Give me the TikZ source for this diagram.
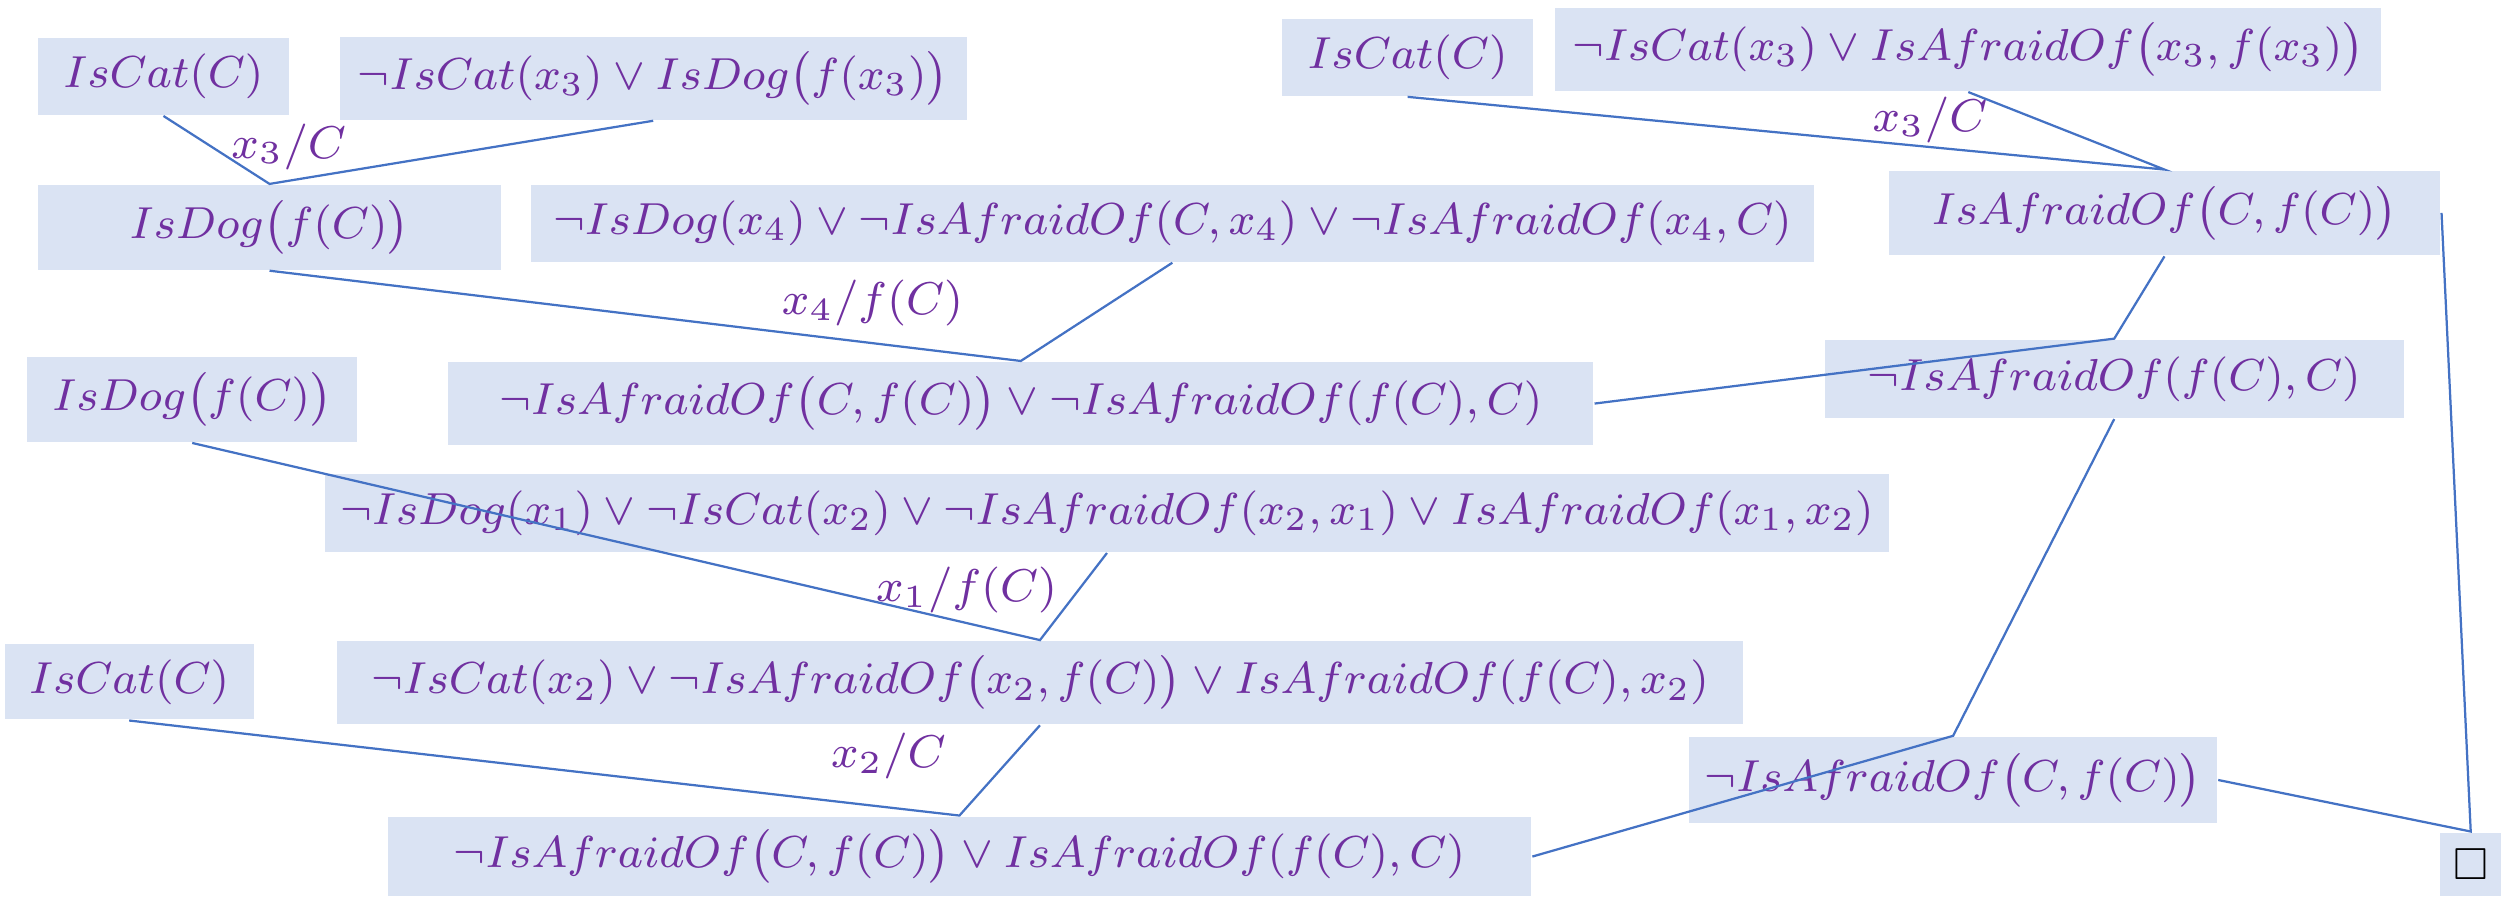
\documentclass[tikz,border=0pt]{standalone}
\usepackage{fix-cm}
\usepackage{amsmath}
\usepackage{amssymb}
\usepackage{tikz}
\definecolor{clausefill}{HTML}{DAE3F3}
\definecolor{clausetext}{HTML}{7030A0}
\definecolor{edgeblue}{HTML}{4472C4}

\begin{document}
\begin{tikzpicture}[
  clause/.style={fill=clausefill, text=clausetext, inner sep=0pt, font=\fontsize{8}{10}\selectfont},
  subst/.style={text=clausetext, inner sep=0pt, font=\fontsize{8.2}{10}\selectfont},
  edge/.style={draw=edgeblue, line width=0.4pt}
]
\useasboundingbox (0,0) rectangle (15.68,-5.62);
\node[clause, minimum width=1.57cm, minimum height=0.48cm] (catA) at (1.025,-0.48) {$IsCat(C)$};
\node[clause, minimum width=3.93cm, minimum height=0.52cm] (dogrule) at (4.095,-0.49) {$\neg IsCat(x_3)\vee IsDog\bigl(f(x_3)\bigr)$};
\node[clause, minimum width=2.90cm, minimum height=0.53cm] (dogfc) at (1.69,-1.425) {$IsDog\bigl(f(C)\bigr)$};
\node[clause, minimum width=8.04cm, minimum height=0.48cm] (afraidrule) at (7.35,-1.40) {$\neg IsDog(x_4)\vee\neg IsAfraidOf(C,x_4)\vee\neg IsAfraidOf(x_4,C)$};
\node[clause, minimum width=7.18cm, minimum height=0.52cm] (resA) at (6.40,-2.53) {$\neg IsAfraidOf\bigl(C,f(C)\bigr)\vee\neg IsAfraidOf(f(C),C)$};
\node[clause, minimum width=1.57cm, minimum height=0.48cm] (catB) at (8.825,-0.36) {$IsCat(C)$};
\node[clause, minimum width=5.18cm, minimum height=0.52cm] (afraidfrule) at (12.34,-0.31) {$\neg IsCat(x_3)\vee IsAfraidOf\bigl(x_3,f(x_3)\bigr)$};
\node[clause, minimum width=3.46cm, minimum height=0.53cm] (afraidcfc) at (13.57,-1.335) {$IsAfraidOf\bigl(C,f(C)\bigr)$};
\node[clause, minimum width=3.63cm, minimum height=0.49cm] (resB) at (13.255,-2.375) {$\neg IsAfraidOf(f(C),C)$};
\node[clause, minimum width=2.07cm, minimum height=0.53cm] (dogB) at (1.205,-2.505) {$IsDog\bigl(f(C)\bigr)$};
\node[clause, minimum width=9.80cm, minimum height=0.49cm] (mainrule) at (6.94,-3.215) {$\neg IsDog(x_1)\vee\neg IsCat(x_2)\vee\neg IsAfraidOf(x_2,x_1)\vee IsAfraidOf(x_1,x_2)$};
\node[clause, minimum width=8.82cm, minimum height=0.52cm] (resC) at (6.52,-4.28) {$\neg IsCat(x_2)\vee\neg IsAfraidOf\bigl(x_2,f(C)\bigr)\vee IsAfraidOf(f(C),x_2)$};
\node[clause, minimum width=1.56cm, minimum height=0.47cm] (catC) at (0.81,-4.275) {$IsCat(C)$};
\node[clause, minimum width=7.17cm, minimum height=0.50cm] (resD) at (6.015,-5.37) {$\neg IsAfraidOf\bigl(C,f(C)\bigr)\vee IsAfraidOf(f(C),C)$};
\node[clause, minimum width=3.31cm, minimum height=0.54cm] (resE) at (12.245,-4.89) {$\neg IsAfraidOf\bigl(C,f(C)\bigr)$};
\node[clause, text=black, minimum width=0.38cm, minimum height=0.40cm] (empty) at (15.49,-5.42) {$\square$};

\node[subst] (subA) at (1.81,-0.92) {$x_3/C$};
\node[subst] (subB) at (5.47,-1.90) {$x_4/f(C)$};
\node[subst] (subC) at (12.10,-0.75) {$x_3/C$};
\node[subst] (subD) at (6.06,-3.70) {$x_1/f(C)$};
\node[subst] (subE) at (5.57,-4.74) {$x_2/C$};

\draw[edge] (catA.south) -- (dogfc.north) -- (dogrule.south);
\draw[edge] (dogfc.south) -- (resA.north) -- (afraidrule.south);
\draw[edge] (catB.south) -- (afraidcfc.north) -- (afraidfrule.south);
\draw[edge] (afraidcfc.south) -- (resB.north) -- (resA.east);
\draw[edge] (dogB.south) -- (resC.north) -- (mainrule.south);
\draw[edge] (catC.south) -- (resD.north) -- (resC.south);
\draw[edge] (resB.south) -- (resE.north) -- (resD.east);
\draw[edge] (resE.east) -- (empty.north) -- (afraidcfc.east);
\end{tikzpicture}
\end{document}
